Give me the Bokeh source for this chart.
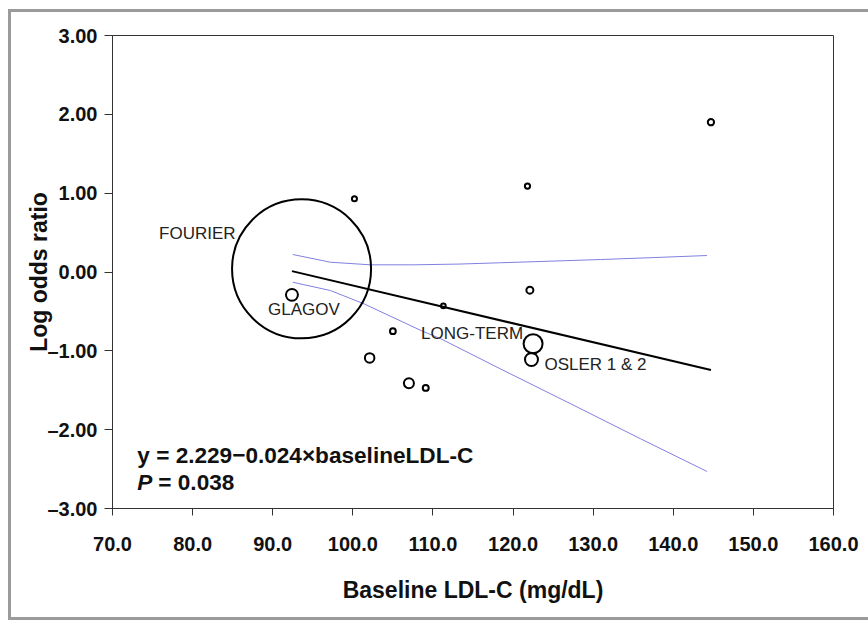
import math

from bokeh.core.properties import value
from bokeh.embed import file_html
from bokeh.models import ColumnDataSource, FixedTicker, Label, Range1d
from bokeh.plotting import figure
from bokeh.resources import INLINE

# Trials in the meta-regression: baseline LDL-C vs log odds ratio
trial = ["FOURIER", "GLAGOV", "LONG-TERM", "OSLER 1 & 2",
         "", "", "", "", "", "", "", "", ""]
baseline_ldl = [93.6, 92.4, 122.5, 122.3, 144.7, 121.8, 100.2,
                122.1, 111.3, 105.0, 102.1, 107.0, 109.1]
log_odds_ratio = [0.04, -0.29, -0.91, -1.11, 1.90, 1.09, 0.93,
                  -0.23, -0.43, -0.75, -1.09, -1.41, -1.47]
weight_pct = [98.6, 0.73, 1.84, 0.86, 0.20, 0.14, 0.13,
              0.25, 0.11, 0.17, 0.46, 0.51, 0.18]

# Fitted meta-regression line
intercept = 2.229
slope = -0.024
p_value = 0.038

# 95% confidence band around the fit
ci_upper_x = [92.5, 97.2, 102.2, 107.6, 113.4, 118.4, 124.6, 130.9, 137.6, 144.2]
ci_upper_y = [0.222, 0.124, 0.091, 0.091, 0.101, 0.117, 0.137, 0.158, 0.183, 0.209]
ci_lower_x = [92.5, 97.2, 101.4, 108.5, 111.0, 118.4, 127.2, 135.9, 144.2]
ci_lower_y = [-0.130, -0.235, -0.404, -0.742, -0.848, -1.228, -1.672, -2.115, -2.530]

# Axis ticks
x_ticks = [70, 80, 90, 100, 110, 120, 130, 140, 150, 160]
x_tick_labels = ["70.0", "80.0", "90.0", "100.0", "110.0", "120.0",
                 "130.0", "140.0", "150.0", "160.0"]
y_ticks = [-3, -2, -1, 0, 1, 2, 3]
y_tick_labels = ["\u20133.00", "\u20132.00", "\u20131.00", "0.00", "1.00", "2.00", "3.00"]

FONT = "Liberation Sans"
INK = "#111111"
FRAME = "#333333"
BIG = "22.6px"
EDGE = "#9b9b9b"

# Grey panel edge (left, top, bottom) painted as inset shadows behind a
# transparent canvas border; white shadows on top keep the outer gap clear
panel_edge = ", ".join([
    "inset 8px 0 0 0 white",
    "inset 0 9px 0 0 white",
    f"inset 11px 0 0 0 {EDGE}",
    f"inset 0 12px 0 0 {EDGE}",
    f"inset 0 -3px 0 0 {EDGE}",
])

p = figure(
    width=868, height=620,
    x_range=Range1d(70, 160), y_range=Range1d(-3, 3),
    output_backend="svg", toolbar_location=None,
    min_border_left=112, min_border_right=35,
    min_border_top=35, min_border_bottom=112,
    styles={"background-color": "white", "box-shadow": panel_edge},
)
p.background_fill_color = "white"
p.border_fill_color = None
p.outline_line_color = FRAME
p.outline_line_width = 1
p.xgrid.grid_line_color = None
p.ygrid.grid_line_color = None

for ax in (p.xaxis[0], p.yaxis[0]):
    ax.axis_line_color = FRAME
    ax.major_tick_line_color = FRAME
    ax.minor_tick_line_color = None
    ax.major_tick_in = 0
    ax.major_label_text_font = FONT
    ax.major_label_text_font_style = "bold"
    ax.major_label_text_font_size = "20px"
    ax.major_label_text_color = INK
    ax.axis_label_text_font = FONT
    ax.axis_label_text_font_style = "bold"
    ax.axis_label_text_font_size = "23px"
    ax.axis_label_text_color = INK

p.xaxis.ticker = FixedTicker(ticks=x_ticks)
p.xaxis.major_label_overrides = dict(zip(x_ticks, x_tick_labels))
p.xaxis.major_tick_out = 7
p.xaxis.major_label_standoff = 21
p.xaxis.axis_label = "Baseline LDL-C (mg/dL)"
p.xaxis.axis_label_standoff = 23

p.yaxis.ticker = FixedTicker(ticks=y_ticks)
p.yaxis.major_label_overrides = dict(zip(y_ticks, y_tick_labels))
p.yaxis.major_tick_out = 8
p.yaxis.major_label_standoff = 7
p.yaxis.axis_label = "Log odds ratio"
p.yaxis.axis_label_standoff = -8

# Confidence band and regression line
p.line(ci_upper_x, ci_upper_y, line_color="#8080e0", line_width=1)
p.line(ci_lower_x, ci_lower_y, line_color="#8080e0", line_width=1)
fit_x = [min(baseline_ldl), max(baseline_ldl)]
fit_y = [intercept + slope * x for x in fit_x]
p.line(fit_x, fit_y, line_color="black", line_width=2)

# Study bubbles, diameter scaled by the square root of the weight
src = ColumnDataSource(dict(
    x=baseline_ldl, y=log_odds_ratio, name=trial,
    size=[14 * math.sqrt(w) for w in weight_pct],
))
p.scatter("x", "y", size="size", source=src, marker="circle",
          fill_color=None, line_color="black", line_width=2)

# Trial names next to their bubbles
placement = {
    "FOURIER": (-66, -35, "right"),
    "GLAGOV": (12, 15, "center"),
    "LONG-TERM": (-10, -10, "right"),
    "OSLER 1 & 2": (13, 5, "left"),
}
for name, x, y in zip(trial, baseline_ldl, log_odds_ratio):
    if not name:
        continue
    dx, dy, align = placement[name]
    p.text([x], [y], text=[name], x_offset=dx, y_offset=dy,
           text_align=align, text_baseline="middle",
           text_font=value(FONT), text_font_size="17px", text_color="#222222")

# Fit equation and significance
eq = Label(x=73.1, y=-2.33,
           text=f"y = {intercept:.3f}\u2212{abs(slope):.3f}\u00d7baselineLDL-C",
           text_font=FONT, text_font_style="bold", text_font_size=BIG,
           text_color=INK, text_baseline="middle")
p_lbl = Label(x=73.1, y=-2.67, text="P", text_font=FONT,
              text_font_style="bold italic", text_font_size=BIG,
              text_color=INK, text_baseline="middle")
p_val = Label(x=73.1, y=-2.67, x_offset=21, text=f"= {p_value:.3f}",
              text_font=FONT, text_font_style="bold", text_font_size=BIG,
              text_color=INK, text_baseline="middle")
for lbl in (eq, p_lbl, p_val):
    p.add_layout(lbl)

open("out.html", "w").write(file_html(p, INLINE))
